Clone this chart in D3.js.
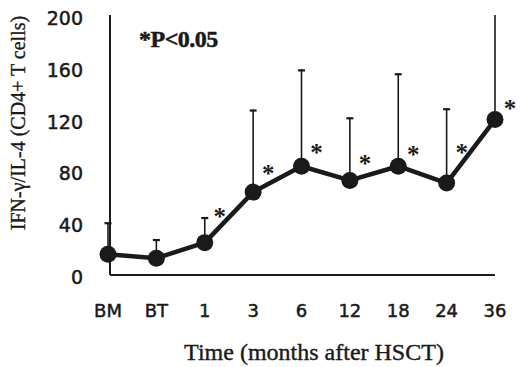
<!DOCTYPE html>
<meta charset="utf-8">
<style>
  body { margin: 0; background: #fff; }
</style>
<script src="https://d3js.org/d3.v7.min.js"></script>
<div id="my_dataviz"></div>
<script>

// data
var timepoints = ["BM", "BT", "1", "3", "6", "12", "18", "24", "36"];
var ratioMean  = [16, 13, 25, 64, 84, 73, 84, 71, 120];
var ratioUpper = [40, 27, 44, 127, 158, 121, 155, 128, 206];   // top of the error bar
var starLevel  = [null, null, 48, 81, 97, 89, 96, 97, 131];    // where the * sits
var yTicks     = [0, 40, 80, 120, 160, 200];

var width = 522, height = 367;

var svg = d3.select("#my_dataviz")
  .append("svg")
    .attr("width", width)
    .attr("height", height)
    .style("background", "#fff");

var x = d3.scalePoint()
    .domain(timepoints)
    .range([108, 495]);

var y = d3.scaleLinear()
    .domain([0, 200])
    .range([275, 16]);

var ink = "#1a1a1a";

// axes: plain lines, no ticks
svg.append("line")
    .attr("x1", 110).attr("x2", 110)
    .attr("y1", y(200) - 1).attr("y2", y(0))
    .attr("stroke", ink).attr("stroke-width", 2);
svg.append("line")
    .attr("x1", 110).attr("x2", x("36"))
    .attr("y1", y(0)).attr("y2", y(0))
    .attr("stroke", ink).attr("stroke-width", 2);

svg.selectAll(".ytick")
  .data(yTicks)
  .enter().append("text")
    .attr("class", "ytick")
    .attr("x", 83)
    .attr("y", function(d) { return y(d) + 2; })
    .attr("text-anchor", "end")
    .attr("dominant-baseline", "central")
    .style("font-family", "DejaVu Sans")
    .style("font-size", "19px")
    .style("fill", ink)
    .style("stroke", ink).style("stroke-width", 0.5)
    .text(function(d) { return d; });

svg.selectAll(".xtick")
  .data(timepoints)
  .enter().append("text")
    .attr("class", "xtick")
    .attr("x", function(d) { return x(d); })
    .attr("y", 317)
    .attr("text-anchor", "middle")
    .style("font-family", "DejaVu Sans")
    .style("font-size", "18px")
    .style("fill", ink)
    .style("stroke", ink).style("stroke-width", 0.5)
    .text(function(d) { return d; });

// axis titles
svg.append("text")
    .attr("x", 314)
    .attr("y", 360)
    .attr("text-anchor", "middle")
    .style("font-family", "Liberation Serif")
    .style("font-size", "24px")
    .style("fill", ink)
    .style("stroke", ink).style("stroke-width", 0.4)
    .text("Time (months after HSCT)");

svg.append("text")
    .attr("transform", "translate(25,123) rotate(-90)")
    .attr("text-anchor", "middle")
    .style("font-family", "Liberation Serif")
    .style("font-size", "20px")
    .style("fill", ink)
    .style("stroke", ink).style("stroke-width", 0.35)
    .text("IFN-\u03b3/IL-4 (CD4+ T cells)");

svg.append("text")
    .attr("x", 139)
    .attr("y", 47)
    .style("font-family", "Liberation Serif")
    .style("font-weight", "bold")
    .style("font-size", "24px")
    .style("letter-spacing", "-0.5px")
    .style("fill", ink)
    .style("stroke", ink).style("stroke-width", 0.5)
    .text("*P<0.05");

// error bars (upper only)
var pts = timepoints.map(function(t, i) {
  return { t: t, mean: ratioMean[i], upper: ratioUpper[i], star: starLevel[i] };
});

svg.selectAll(".err")
  .data(pts)
  .enter().append("line")
    .attr("class", "err")
    .attr("x1", function(d) { return x(d.t); })
    .attr("x2", function(d) { return x(d.t); })
    .attr("y1", function(d) { return y(d.mean); })
    .attr("y2", function(d) { return y(Math.min(d.upper, 200)) - 1; })
    .attr("stroke", ink).attr("stroke-width", 1.6);

svg.selectAll(".cap")
  .data(pts.filter(function(d) { return d.upper <= 200; }))
  .enter().append("line")
    .attr("class", "cap")
    .attr("x1", function(d) { return x(d.t) - 3.5; })
    .attr("x2", function(d) { return x(d.t) + 3.5; })
    .attr("y1", function(d) { return y(d.upper); })
    .attr("y2", function(d) { return y(d.upper); })
    .attr("stroke", ink).attr("stroke-width", 2.2);

// mean line
svg.append("path")
    .datum(pts)
    .attr("fill", "none")
    .attr("stroke", ink)
    .attr("stroke-width", 4.5)
    .attr("stroke-linejoin", "round")
    .attr("d", d3.line()
      .x(function(d) { return x(d.t); })
      .y(function(d) { return y(d.mean); }));

svg.selectAll(".dot")
  .data(pts)
  .enter().append("circle")
    .attr("class", "dot")
    .attr("cx", function(d) { return x(d.t); })
    .attr("cy", function(d) { return y(d.mean); })
    .attr("r", 8.5)
    .attr("fill", ink);

// significance stars
svg.selectAll(".star")
  .data(pts.filter(function(d) { return d.star != null; }))
  .enter().append("text")
    .attr("class", "star")
    .attr("x", function(d) { return x(d.t) + 15; })
    .attr("y", function(d) { return y(d.star) + 12; })
    .attr("text-anchor", "middle")
    .style("font-family", "Liberation Serif")
    .style("font-weight", "bold")
    .style("font-size", "25px")
    .style("fill", ink)
    .text("*");

</script>
